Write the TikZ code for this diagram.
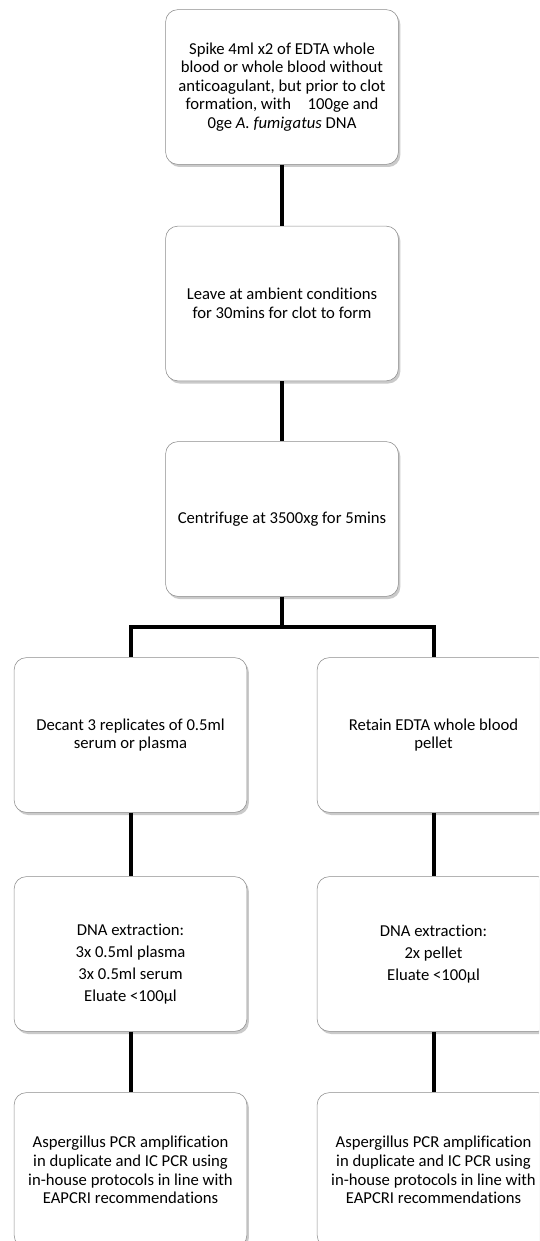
\documentclass[tikz,border=0pt]{standalone}
\usepackage{fontspec}
\setmainfont{Carlito}[Ligatures=NoCommon]
\usetikzlibrary{positioning,shadows}

\begin{document}
\begin{tikzpicture}[x=0.75pt,y=-0.75pt,
    stepbox/.style={draw=black!45, fill=white, rounded corners=9pt,
      minimum width=174.5pt, minimum height=116pt, align=center,
      font=\fontsize{12.5}{13.9}\selectfont,
      drop shadow={shadow xshift=1.5pt, shadow yshift=-2pt, fill=black!35, opacity=0.6}},
    link/.style={line width=3pt}]
    \clip (0,0) rectangle (539,1241);

    % Draw the main column
    \node[stepbox] (spike) at (282,87) {Spike 4ml x2 of EDTA whole\\ blood or whole blood without\\ anticoagulant, but prior to clot\\ formation, with\hspace{1em}100ge and\\ 0ge \textit{A. fumigatus} DNA};
    \node[stepbox] (leave) at (282,303.5) {Leave at ambient conditions\\ for 30mins for clot to form};
    \node[stepbox] (spin) at (282,519) {Centrifuge at 3500xg for 5mins};

    % Draw the two branches
    \node[stepbox] (serum) at (130.5,735) {Decant 3 replicates of 0.5ml\\ serum or plasma};
    \node[stepbox] (pellet) at (433.5,735) {Retain EDTA whole blood\\ pellet};
    \node[stepbox] (dnaL) at (130.5,954) {\rule{0pt}{24pt}DNA extraction:\\[2.6pt] 3x 0.5ml plasma\\[2.6pt] 3x 0.5ml serum\\[2.6pt] Eluate <100µl};
    \node[stepbox] (dnaR) at (433.5,954) {DNA extraction:\\[2.6pt] 2x pellet\\[2.6pt] Eluate <100µl};
    \node[stepbox] (pcrL) at (130.5,1170) {Aspergillus PCR amplification\\ in duplicate and IC PCR using\\ in-house protocols in line with\\ EAPCRI recommendations};
    \node[stepbox] (pcrR) at (433.5,1170) {Aspergillus PCR amplification\\ in duplicate and IC PCR using\\ in-house protocols in line with\\ EAPCRI recommendations};

    % Draw connectors
    \coordinate (split) at (282,627);
    \draw[link] (spike.south) -- (leave.north);
    \draw[link] (leave.south) -- (spin.north);
    \draw[link] (spin.south) -- (split) -| (serum.north);
    \draw[link] (split) -| (pellet.north);
    \foreach \a/\b in {serum/dnaL, dnaL/pcrL, pellet/dnaR, dnaR/pcrR} {
      \draw[link] (\a.south) -- (\b.north);
    }

  \end{tikzpicture}
\end{document}
